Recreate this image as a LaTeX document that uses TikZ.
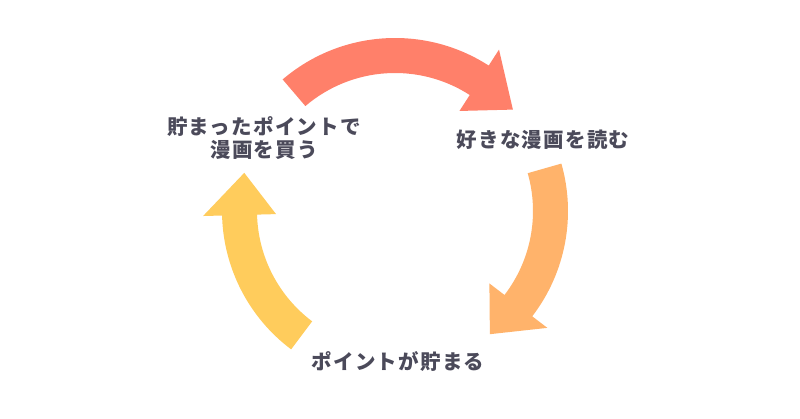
\documentclass[tikz,border=0pt]{standalone}
\usepackage{fontspec}
\newfontfamily\jp{Noto Sans CJK JP}[LetterSpace=6]
\definecolor{txt}{HTML}{4B4A5A}
\definecolor{cA}{HTML}{FF806A}
\definecolor{cB}{HTML}{FFB36B}
\definecolor{cC}{HTML}{FFCC5C}
\tikzset{
  lbl/.style={text=txt, font=\jp\bfseries\fontsize{20.5}{23}\selectfont, align=center, inner sep=0pt},
}
% arrow: #1 start angle, #2 head base angle, #3 tip angle, #4 colour
\newcommand\ringarrow[4]{%
  \fill[#4] (#1:173pt) arc[start angle=#1, end angle=#2, radius=173pt]
    -- (#2:192pt) -- (#3:155.5pt) -- (#2:119pt) -- (#2:138pt)
    arc[start angle=#2, end angle=#1, radius=138pt] -- cycle;}
\begin{document}
\begin{tikzpicture}[x=1pt,y=1pt]
\fill[white] (0,0) rectangle (800,419);
\useasboundingbox (0,0) rectangle (800,419);
\begin{scope}[shift={(395,208)}]
  \ringarrow{130.5}{57.2}{40.7}{cA}
  \ringarrow{15.9}{-37.5}{-52.4}{cB}
  \ringarrow{233.1}{181.5}{165.8}{cC}
\end{scope}
\node[lbl] (buy) at (264,280.5) {貯まったポイントで\\漫画を買う};
\node[lbl] (read) at (543,279) {好きな漫画を読む};
\node[lbl] (save) at (398,57) {ポイントが貯まる};
\end{tikzpicture}
\end{document}
